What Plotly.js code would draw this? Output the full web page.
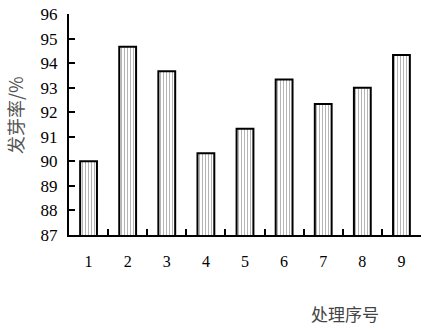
<!DOCTYPE html>
<html>
<head>
<meta charset="utf-8">
<script src="https://cdn.plot.ly/plotly-3.0.1.min.js"></script>
<style>
  html, body { margin: 0; padding: 0; background: #fff; }
  #chart { width: 433px; height: 329px; }
</style>
</head>
<body>
<div id="chart"></div>
<script>
// Treatment numbers and germination rate (%)
const treatments = ['1', '2', '3', '4', '5', '6', '7', '8', '9'];
const germinationRate = [90.0, 94.67, 93.67, 90.33, 91.33, 93.33, 92.33, 93.0, 94.33];
const yTickValues = [87, 88, 89, 90, 91, 92, 93, 94, 95, 96];

const serif = '"Liberation Serif", "Times New Roman", serif';
const cjk = '"Noto Sans CJK SC", sans-serif';

const trace = {
  type: 'bar',
  x: treatments,
  y: germinationRate,
  width: 0.43,
  marker: {
    color: '#ffffff',
    line: { color: '#000000', width: 2 },
    pattern: { shape: '|', fgcolor: '#b4b4b4', bgcolor: '#ffffff', size: 3, solidity: 0.35 }
  },
  hoverinfo: 'skip'
};

const layout = {
  width: 433,
  height: 329,
  margin: { l: 69, r: 12, t: 14, b: 94 },
  paper_bgcolor: '#ffffff',
  plot_bgcolor: '#ffffff',
  showlegend: false,
  xaxis: {
    type: 'category',
    showgrid: false,
    zeroline: false,
    showline: true,
    linecolor: '#000000',
    linewidth: 2,
    ticks: 'inside',
    tickson: 'boundaries',
    ticklen: 6,
    tickwidth: 2,
    tickcolor: '#000000',
    tickfont: { family: serif, size: 16, color: '#000000' },
    ticklabelstandoff: 11
  },
  yaxis: {
    range: [87, 96],
    tickvals: yTickValues,
    showgrid: false,
    zeroline: false,
    showline: true,
    linecolor: '#000000',
    linewidth: 2,
    ticks: 'inside',
    ticklen: 6,
    tickwidth: 2,
    tickcolor: '#000000',
    tickfont: { family: serif, size: 17, color: '#000000' },
    ticklabelstandoff: 6
  },
  annotations: [
    {
      text: '发芽率/%',
      xref: 'paper', yref: 'paper',
      x: -0.155, y: 0.545,
      xanchor: 'center', yanchor: 'middle',
      textangle: -90,
      showarrow: false,
      font: { family: cjk, size: 18, color: '#555555' }
    },
    {
      text: '处理序号',
      xref: 'paper', yref: 'paper',
      x: 0.784, y: -0.355,
      xanchor: 'center', yanchor: 'middle',
      showarrow: false,
      font: { family: cjk, size: 17, color: '#444444' }
    }
  ]
};

Plotly.newPlot('chart', [trace], layout, { staticPlot: true, displayModeBar: false });
</script>
</body>
</html>
